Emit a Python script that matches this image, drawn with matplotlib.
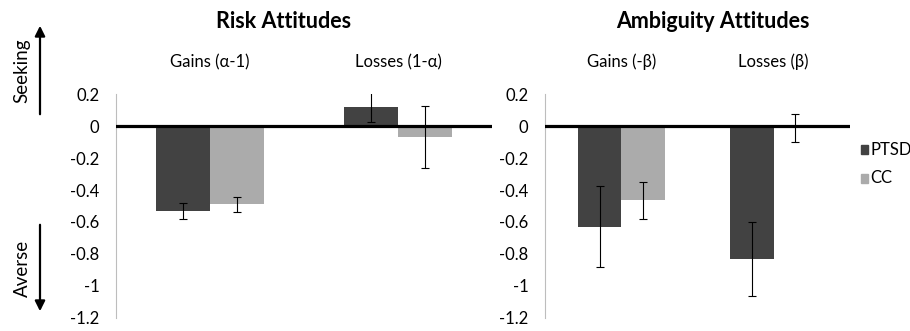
import matplotlib
matplotlib.use("Agg")
import matplotlib.pyplot as plt
from matplotlib.patches import Rectangle

plt.rcParams['font.family'] = ['Lato', 'DejaVu Sans']

groups = ["PTSD", "CC"]
colors = ["#424242", "#ababab"]

risk_cats = ["Gains (α-1)", "Losses (1-α)"]
risk_ptsd = [-0.53, 0.12]
risk_ptsd_err = [0.05, 0.093]
risk_cc = [-0.49, -0.07]
risk_cc_err = [0.048, 0.194]

amb_cats = ["Gains (-β)", "Losses (β)"]
amb_ptsd = [-0.63, -0.83]
amb_ptsd_err = [0.253, 0.23]
amb_cc = [-0.465, -0.01]
amb_cc_err = [0.115, 0.087]

yticks = [0.2, 0, -0.2, -0.4, -0.6, -0.8, -1, -1.2]
ytick_labels = ["0.2", "0", "-0.2", "-0.4", "-0.6", "-0.8", "-1", "-1.2"]

W, H = 910, 331
fig = plt.figure(figsize=(W / 100, H / 100), dpi=100)


def panel(rect, cats, ptsd, ptsd_err, cc, cc_err):
    ax = fig.add_axes(rect)
    bw = 0.285
    xs = list(range(len(cats)))
    for vals, errs, col, off in [(ptsd, ptsd_err, colors[0], -bw / 2),
                                 (cc, cc_err, colors[1], bw / 2)]:
        pos = [x + off for x in xs]
        ax.bar(pos, vals, width=bw, color=col, zorder=2)
        ax.errorbar(pos, vals, yerr=errs, fmt="none", ecolor="black",
                    elinewidth=0.8, capsize=3, capthick=0.8, zorder=3)
    ax.axhline(0, color="black", lw=2.3, zorder=4)
    ax.set_xlim(-0.5, len(cats) - 0.5)
    ax.set_ylim(-1.2, 0.2)
    ax.set_yticks(yticks)
    ax.set_yticklabels(ytick_labels, fontsize=12)
    ax.tick_params(axis="y", length=0, pad=12)
    ax.set_xticks([])
    for s in ["top", "right", "bottom"]:
        ax.spines[s].set_visible(False)
    ax.spines["left"].set_color("#bdbdbd")
    ax.spines["left"].set_linewidth(0.8)
    for x, c in zip(xs, cats):
        ax.text(x, 0.40, c, ha="center", va="center", fontsize=12,
                transform=ax.get_xaxis_transform() if False else ax.transData,
                clip_on=False)
    return ax


def fx(px):
    return px / W


def fy(py):
    return 1 - py / H


ax1 = panel([fx(116), fy(318), fx(492) - fx(116), fy(94) - fy(318)],
            risk_cats, risk_ptsd, risk_ptsd_err, risk_cc, risk_cc_err)
ax2 = panel([fx(545), fy(318), fx(850) - fx(545), fy(94) - fy(318)],
            amb_cats, amb_ptsd, amb_ptsd_err, amb_cc, amb_cc_err)

fig.text(fx(284), fy(22), "Risk Attitudes", ha="center", va="center",
         fontsize=15.5, fontweight="bold")
fig.text(fx(713), fy(22), "Ambiguity Attitudes", ha="center", va="center",
         fontsize=15.5, fontweight="bold")

# Direction arrows on the far left
fig.add_artist(plt.matplotlib.patches.FancyArrowPatch(
    (fx(40), fy(117)), (fx(40), fy(23)), transform=fig.transFigure,
    arrowstyle="-|>,head_length=6,head_width=3", color="black", lw=1.6))
fig.add_artist(plt.matplotlib.patches.FancyArrowPatch(
    (fx(40), fy(222)), (fx(40), fy(314)), transform=fig.transFigure,
    arrowstyle="-|>,head_length=6,head_width=3", color="black", lw=1.6))
fig.text(fx(22), fy(71), "Seeking", rotation=90, ha="center", va="center",
         fontsize=13.5)
fig.text(fx(22), fy(268), "Averse", rotation=90, ha="center", va="center",
         fontsize=13.5)

# Legend
for py, label, col in [(150, groups[0], colors[0]), (178, groups[1], colors[1])]:
    fig.add_artist(Rectangle((fx(861), fy(py + 4.5)), fx(7), fy(0) - fy(9),
                             transform=fig.transFigure, color=col))
    fig.text(fx(870), fy(py), label, ha="left", va="center", fontsize=12)

fig.savefig("out.png", dpi=100)
